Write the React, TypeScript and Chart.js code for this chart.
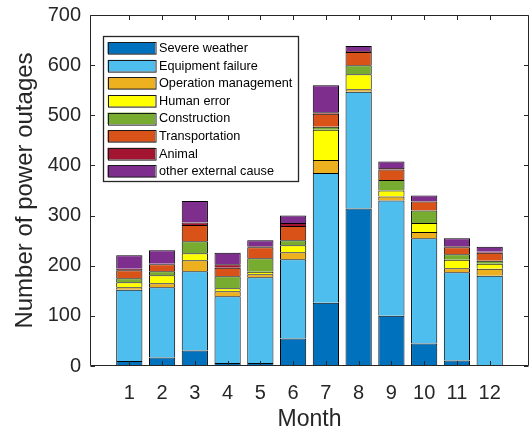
import React, { useEffect, useRef } from "react";
import { Chart, registerables } from "chart.js";

Chart.register(...registerables);

// Months on the x axis
const months = [1, 2, 3, 4, 5, 6, 7, 8, 9, 10, 11, 12];
const monthLabels = ["1", "2", "3", "4", "5", "6", "7", "8", "9", "10", "11", "12"];
const yTicks = [0, 100, 200, 300, 400, 500, 600, 700];

// Outage counts per cause, by month
const severeWeather = [10, 17, 31, 6, 6, 55, 126, 314, 100, 45, 11, 0];
const equipmentFailure = [142, 140, 158, 133, 171, 158, 259, 233, 230, 210, 176, 180];
const operationManagement = [5, 8, 22, 10, 6, 14, 26, 5, 8, 12, 8, 14];
const humanError = [10, 16, 14, 6, 5, 14, 60, 30, 12, 18, 17, 10];
const construction = [8, 8, 24, 24, 27, 10, 6, 18, 21, 25, 11, 6];
const transportation = [16, 14, 32, 17, 22, 28, 26, 26, 21, 18, 14, 16];
const animal = [3, 1, 5, 7, 2, 6, 3, 2, 3, 1, 2, 2];
const otherExternal = [27, 27, 43, 23, 12, 15, 54, 10, 13, 11, 16, 10];

const causeNames = [
  "Severe weather",
  "Equipment failure",
  "Operation management",
  "Human error",
  "Construction",
  "Transportation",
  "Animal",
  "other external cause",
];
const causeColors = [
  "#0072BD",
  "#4DBEEE",
  "#EDB120",
  "#FFFF00",
  "#77AC30",
  "#D95319",
  "#A2142F",
  "#7E2F8E",
];
const causeSeries = [
  severeWeather,
  equipmentFailure,
  operationManagement,
  humanError,
  construction,
  transportation,
  animal,
  otherExternal,
];

const FONT = "'Liberation Sans', Arial, Helvetica, sans-serif";
const AXIS_COLOR = "#262626";

// Boxed axes with inward ticks on all four sides
const axesBoxPlugin = {
  id: "axesBox",
  afterDatasetsDraw(chart: any) {
    const { ctx, chartArea, scales } = chart;
    const { left, right, top, bottom } = chartArea;
    const tick = 4.5;
    ctx.save();
    ctx.strokeStyle = AXIS_COLOR;
    ctx.lineWidth = 1;
    ctx.beginPath();
    const L = Math.round(left) + 0.5;
    const R = Math.round(right) - 0.5;
    const T = Math.round(top) + 0.5;
    const B = Math.round(bottom) - 0.5;
    ctx.rect(L, T, R - L, B - T);
    for (const m of months) {
      const x = Math.round(scales.x.getPixelForValue(m)) + 0.5;
      ctx.moveTo(x, B);
      ctx.lineTo(x, B - tick);
      ctx.moveTo(x, T);
      ctx.lineTo(x, T + tick);
    }
    for (const v of yTicks) {
      const y = Math.round(scales.y.getPixelForValue(v)) + 0.5;
      ctx.moveTo(L, y);
      ctx.lineTo(L + tick, y);
      ctx.moveTo(R, y);
      ctx.lineTo(R - tick, y);
    }
    ctx.stroke();
    ctx.restore();
  },
};

// Legend box placed inside the upper-left of the axes
const boxedLegendPlugin = {
  id: "boxedLegend",
  afterDraw(chart: any) {
    const { ctx, chartArea } = chart;
    const bx = Math.round(chartArea.left + 13) + 0.5;
    const by = Math.round(chartArea.top + 21) + 0.5;
    const bw = 195;
    const bh = 145;
    ctx.save();
    ctx.fillStyle = "#ffffff";
    ctx.fillRect(bx, by, bw, bh);
    ctx.strokeStyle = AXIS_COLOR;
    ctx.lineWidth = 1.3;
    ctx.strokeRect(bx, by, bw, bh);
    ctx.font = `12.7px ${FONT}`;
    ctx.textBaseline = "middle";
    ctx.textAlign = "left";
    chart.data.datasets.forEach((ds: any, i: number) => {
      const cy = by + 11.5 + i * 17.6;
      const sx = bx + 4;
      const sw = 47.5;
      const sh = 11.6;
      ctx.fillStyle = ds.backgroundColor;
      ctx.fillRect(sx, cy - sh / 2, sw, sh);
      ctx.strokeStyle = "#1a1a1a";
      ctx.lineWidth = 1;
      ctx.strokeRect(Math.round(sx) + 0.5, Math.round(cy - sh / 2) + 0.5, sw, sh);
      ctx.fillStyle = "#000000";
      ctx.fillText(ds.label, bx + 55.5, cy + 0.5);
    });
    ctx.restore();
  },
};

export default function App() {
  const canvasRef = useRef<HTMLCanvasElement | null>(null);

  useEffect(() => {
    if (!canvasRef.current) return;
    const datasets = causeSeries.map((series, i) => ({
      label: causeNames[i],
      data: series.map((v, j) => ({ x: months[j], y: v })),
      backgroundColor: causeColors[i],
      borderColor: "#000000",
      borderWidth: { top: 1, left: 1, right: 1, bottom: 0 },
      borderSkipped: false,
      stack: "total",
      categoryPercentage: 1,
      barPercentage: 0.8,
    }));

    const chart = new Chart(canvasRef.current, {
      type: "bar",
      data: { datasets },
      options: {
        animation: false,
        responsive: false,
        devicePixelRatio: 1,
        layout: { padding: { top: 15, right: 3, left: 0, bottom: 0 } },
        plugins: {
          legend: { display: false },
          tooltip: { enabled: false },
        },
        scales: {
          x: {
            type: "linear",
            offset: false,
            min: -0.2,
            max: 13.2,
            grid: { display: false, drawTicks: false, offset: false },
            border: { display: false },
            afterBuildTicks: (scale: any) => {
              scale.ticks = months.map((m) => ({ value: m }));
            },
            afterFit: (scale: any) => {
              scale.height = 69;
              scale.paddingLeft = 0;
              scale.paddingRight = 0;
            },
            ticks: {
              padding: 15,
              color: AXIS_COLOR,
              font: { family: FONT, size: 20 },
              callback: (value: any) => monthLabels[months.indexOf(Number(value))] ?? "",
            },
            title: {
              display: true,
              text: "Month",
              color: AXIS_COLOR,
              font: { family: FONT, size: 23 },
              padding: { top: 0, bottom: 2 },
            },
          },
          y: {
            type: "linear",
            stacked: true,
            min: 0,
            max: 700,
            grid: { display: false, drawTicks: false },
            border: { display: false },
            afterBuildTicks: (scale: any) => {
              scale.ticks = yTicks.map((v) => ({ value: v }));
            },
            afterFit: (scale: any) => {
              scale.width = 90;
              scale.paddingTop = 0;
              scale.paddingBottom = 0;
            },
            ticks: {
              padding: 9,
              color: AXIS_COLOR,
              font: { family: FONT, size: 20 },
              callback: (value: any) => String(value),
            },
            title: {
              display: true,
              text: "Number of power outages",
              color: AXIS_COLOR,
              font: { family: FONT, size: 24 },
              padding: { top: 11, bottom: 0 },
            },
          },
        },
      },
      plugins: [axesBoxPlugin, boxedLegendPlugin],
    } as any);

    return () => chart.destroy();
  }, []);

  return (
    <div style={{ position: "fixed", left: 0, top: 0, width: 532, height: 435, background: "#ffffff" }}>
      <canvas ref={canvasRef} width={532} height={435} />
    </div>
  );
}
